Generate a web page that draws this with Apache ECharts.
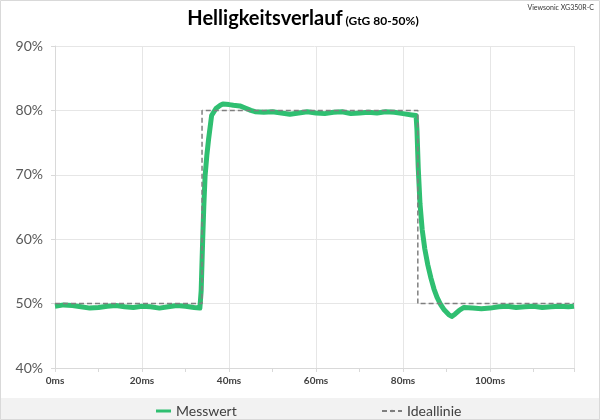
<!DOCTYPE html>
<html><head><meta charset="utf-8">
<script src="https://cdn.jsdelivr.net/npm/echarts@6/dist/echarts.min.js"></script>
<style>html,body{margin:0;padding:0;background:#fff}#c{width:600px;height:420px}</style>
</head><body><div id="c"></div>
<script>
// Messwert (time ms, luminance %)
const measTime = [0,2,4,6,8,10,12,14,16,18,20,22,24,26,28,30,32,33.3,
  33.6,33.95,34.2,34.5,34.9,35.3,36,37,38,38.6,40,41,42.5,44,45,46,48,50,52,54,56,58,60,62,64,66,68,70,72,74,76,78,80,82,83,
  83.2,83.5,83.9,84.4,85,85.7,86.4,87.1,87.8,88.6,89.5,90.5,91.2,92,93,94,96,98,100,102,104,106,108,110,112,114,116,118,119.3];
const measVal = [49.6,49.8,49.7,49.5,49.3,49.4,49.6,49.7,49.5,49.4,49.6,49.5,49.3,49.5,49.7,49.6,49.4,49.3,
  52,60,65,69.8,73,75.5,79.2,80.3,80.8,81.0,80.9,80.8,80.7,80.3,80.0,79.8,79.7,79.8,79.6,79.4,79.6,79.8,79.6,79.5,79.7,79.8,79.5,79.6,79.7,79.6,79.8,79.7,79.5,79.3,79.2,
  77,71,65.5,61.5,58.5,56,54,52.3,51,49.9,49.0,48.3,48.0,48.4,49.0,49.4,49.3,49.2,49.3,49.5,49.6,49.4,49.5,49.6,49.4,49.5,49.6,49.5,49.6];
// Ideallinie
const idealTime = [0,33.8,33.8,83.4,83.4,119.3];
const idealVal  = [50,50,80,80,50,50];
const yTicks = [40,50,60,70,80,90];
const xTickStep = 20;

const meas = measTime.map((t,i)=>[t,measVal[i]]);
const ideal = idealTime.map((t,i)=>[t,idealVal[i]]);
const font = 'Lato, "Liberation Sans", sans-serif';
const chart = echarts.init(document.getElementById('c'));
chart.setOption({
  animation:false,
  backgroundColor:'#fff',
  title:{
    text:'{a|Helligkeitsverlauf}{b| (GtG 80-50%)}',
    left:298, top:4, textAlign:'center',
    textStyle:{rich:{
      a:{fontFamily:font,fontWeight:'bold',fontSize:20,color:'#000'},
      b:{fontFamily:font,fontWeight:'bold',fontSize:12,color:'#000',padding:[4,0,0,0]}
    }}
  },
  graphic:[
    {type:'rect',shape:{x:0,y:398,width:600,height:22},style:{fill:'#f2f2f2'},z:-1},
    {type:'rect',shape:{x:0.5,y:0.5,width:599,height:419},style:{fill:'none',stroke:'#d9d9d9',lineWidth:1},z:10},
    {type:'text',right:6,top:4,style:{text:'Viewsonic XG350R-C',fontFamily:font,fontSize:7,fill:'#333'}}
  ],
  legend:[
    {data:['Messwert'],left:151,top:399,itemWidth:15,itemHeight:3,itemGap:4,
     textStyle:{fontFamily:font,fontSize:14,color:'#404040'},icon:'rect'},
    {data:['Ideallinie'],left:376,top:399,itemWidth:20,itemHeight:3,
     textStyle:{fontFamily:font,fontSize:14,color:'#404040'}}
  ],
  grid:{left:55,right:26,top:46,bottom:52},
  xAxis:{type:'value',min:0,max:119.3,interval:xTickStep,
    axisLine:{show:true,lineStyle:{color:'#d9d9d9'}},
    axisTick:{show:true,length:4,lineStyle:{color:'#d9d9d9'}},
    minorTick:{show:true,splitNumber:2,length:4,lineStyle:{color:'#d9d9d9'}},
    splitLine:{show:true,lineStyle:{color:'#e6e6e6'}},
    axisLabel:{fontFamily:font,fontSize:10,fontWeight:'bold',color:'#404040',margin:8,
      showMaxLabel:false,formatter:v=>v+'ms'}
  },
  yAxis:{type:'value',min:yTicks[0],max:yTicks[yTicks.length-1],interval:10,
    axisLine:{show:true,lineStyle:{color:'#d9d9d9'}},
    axisTick:{show:true,length:4,lineStyle:{color:'#d9d9d9'}},
    splitLine:{show:true,lineStyle:{color:'#e6e6e6'}},
    axisLabel:{fontFamily:font,fontSize:14,color:'#595959',margin:12,formatter:v=>v+'%'}
  },
  series:[
    {name:'Ideallinie',type:'line',data:ideal,symbol:'none',z:3,
     lineStyle:{color:'#7f7f7f',width:1.5,type:[5,3]},itemStyle:{color:'#7f7f7f'}},
    {name:'Messwert',type:'line',data:meas,symbol:'none',z:2,
     lineStyle:{color:'#2fbf71',width:5,join:'round'},itemStyle:{color:'#2fbf71'}}
  ]
});
</script></body></html>
